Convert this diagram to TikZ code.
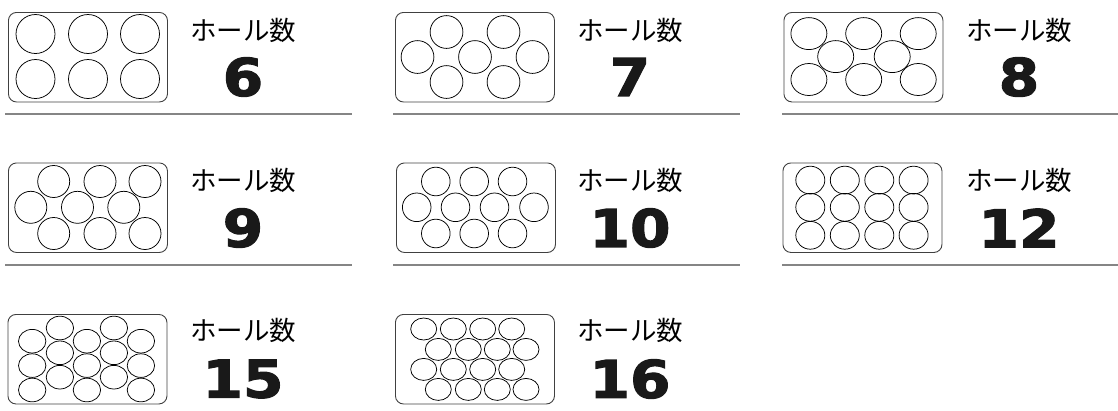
\documentclass[tikz,border=0pt]{standalone}
\usepackage{fontspec}
\newfontfamily\jpfont{Noto Sans CJK JP}
\newfontfamily\numfont[BoldFont={DejaVu Sans Bold}, BoldFeatures={FakeBold=2.2, FakeStretch=1.12}]{DejaVu Sans}
\usetikzlibrary{positioning}

\tikzset{
  tray/.style={draw=black!75, line width=0.9pt, rounded corners=8pt, anchor=north west,
    minimum width=159pt, minimum height=89.5pt, inner sep=0pt},
  hole/.style={draw=black, line width=0.75pt},
  holes/.style={font=\jpfont\fontsize{26.5}{26.5}\selectfont, inner sep=0pt},
  count/.style={font=\numfont\bfseries\fontsize{52}{52}\selectfont, inner sep=0pt, text=black!90},
  rule/.style={draw=black!48, line width=1.6pt},
}

\begin{document}
\begin{tikzpicture}[x=1pt, y=-1pt]
  \useasboundingbox (0,0) rectangle (1118,410);

  % Trays
  \node[tray] (t6) at (8,12) {};
  \node[tray] (t7) at (395,12) {};
  \node[tray] (t8) at (783.5,12) {};
  \node[tray] (t9) at (8,162.5) {};
  \node[tray] (t10) at (396,162.5) {};
  \node[tray] (t12) at (782.5,162.5) {};
  \node[tray] (t15) at (7.5,314) {};
  \node[tray] (t16) at (395,314) {};

  % Holes
  \begin{scope}[shift={(t6.north west)}]
    \foreach \x in {27.5,80,132} \foreach \y in {22,67}
      \draw[hole] (\x,\y) circle (19.5pt);
  \end{scope}
  \begin{scope}[shift={(t7.north west)}]
    \foreach \x/\y in {51.5/20,108.5/20,22.5/45,80/45,137.5/45,51.5/70,108.5/70}
      \draw[hole] (\x,\y) circle (16.4pt);
  \end{scope}
  \begin{scope}[shift={(t8.north west)}]
    \foreach \x/\y in {25.4/21.6,80.2/21.6,134.7/21.6,52.2/44.6,108.7/44.6,25.4/67.5,80.2/67.5,134.7/67.5}
      \draw[hole] (\x,\y) ellipse [x radius=18pt, y radius=16pt];
  \end{scope}
  \begin{scope}[shift={(t9.north west)}]
    \foreach \x/\y in {45.7/19,92/19,137/19,22.8/44.8,69.5/44.8,115.8/44.8,45.7/71,92/71,137/71}
      \draw[hole] (\x,\y) circle (16pt);
  \end{scope}
  \begin{scope}[shift={(t10.north west)}]
    \foreach \x/\y in {39.8/19,78.2/19,116.5/19,20.7/44.8,59.5/44.8,98.5/44.8,138/44.8,39.8/71,78.2/71,116.5/71}
      \draw[hole] (\x,\y) circle (14.3pt);
  \end{scope}
  \begin{scope}[shift={(t12.north west)}]
    \foreach \x in {27.8,62.3,96.8,131.1} \foreach \y in {17.6,44.8,72.8}
      \draw[hole] (\x,\y) ellipse [x radius=14.5pt, y radius=13.9pt];
  \end{scope}
  \begin{scope}[shift={(t15.north west)}]
    \foreach \x in {24.7,79.4,133.4} \foreach \y in {27.2,51.6,76}
      \draw[hole] (\x,\y) ellipse [x radius=13.7pt, y radius=11.8pt];
    \foreach \x in {52.4,106.4} \foreach \y in {14,38.8,63.2}
      \draw[hole] (\x,\y) ellipse [x radius=13.7pt, y radius=11.8pt];
  \end{scope}
  \begin{scope}[shift={(t16.north west)}]
    \foreach \x in {28.7,58.3,87.7,116.7} \foreach \y in {15,55.4}
      \draw[hole] (\x,\y) ellipse [x radius=13pt, y radius=11pt];
    \foreach \x in {43.3,73.3,102.3,131} \foreach \y in {35.4,75.4}
      \draw[hole] (\x,\y) ellipse [x radius=13pt, y radius=11pt];
  \end{scope}

  % Labels
  \node[holes] (h6) at (243,30) {ホール数};
  \node[holes] (h7) at (630,30) {ホール数};
  \node[holes] (h8) at (1019,30) {ホール数};
  \node[holes] (h9) at (243,180) {ホール数};
  \node[holes] (h10) at (630,180) {ホール数};
  \node[holes] (h12) at (1019,180) {ホール数};
  \node[holes] (h15) at (243,330) {ホール数};
  \node[holes] (h16) at (630,330) {ホール数};

  % Counts
  \node[count] (n6) at (243,77) {6};
  \node[count] (n7) at (630,77) {7};
  \node[count] (n8) at (1019,77) {8};
  \node[count] (n9) at (243,228) {9};
  \node[count] (n10) at (630,228) {10};
  \node[count] (n12) at (1019,228) {12};
  \node[count] (n15) at (243,379) {15};
  \node[count] (n16) at (630,379) {16};

  % Rules
  \draw[rule] (5,114) -- (352,114);
  \draw[rule] (393,114) -- (740,114);
  \draw[rule] (782,114) -- (1118,114);
  \draw[rule] (5,265) -- (352,265);
  \draw[rule] (393,265) -- (740,265);
  \draw[rule] (782,265) -- (1118,265);
\end{tikzpicture}
\end{document}
